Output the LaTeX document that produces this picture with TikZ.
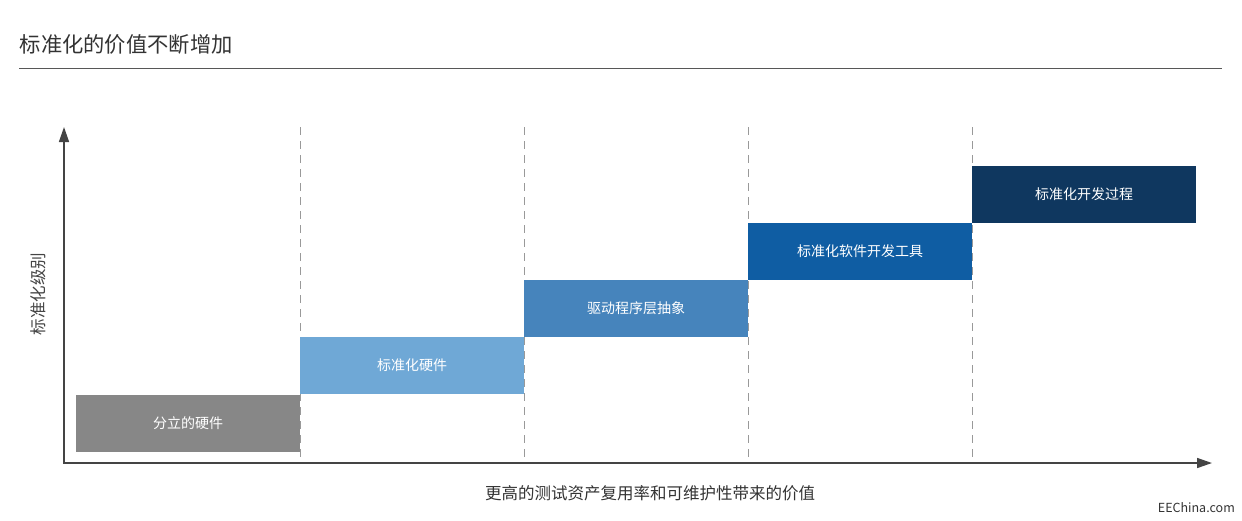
\documentclass[tikz,border=0pt]{standalone}
\usepackage{fontspec}
\setmainfont{Noto Sans CJK SC}
\usetikzlibrary{arrows.meta}
\definecolor{axisgray}{HTML}{444444}
\definecolor{dashgray}{HTML}{999999}
\definecolor{cA}{HTML}{878787}
\definecolor{cB}{HTML}{6FA8D6}
\definecolor{cC}{HTML}{4684BC}
\definecolor{cD}{HTML}{0F5DA3}
\definecolor{cE}{HTML}{0F375F}
\definecolor{txtgray}{HTML}{333333}
\tikzset{
  stepbox/.style={draw=none, minimum width=224pt, minimum height=57pt, inner sep=0pt,
    text=white, font=\fontsize{14pt}{16pt}\selectfont},
  axisline/.style={draw=axisgray, line width=1.5pt, -{Triangle[length=15pt,width=10pt]}},
  gridline/.style={draw=dashgray, line width=0.9pt, dash pattern=on 8pt off 6pt},
}
\begin{document}
\begin{tikzpicture}[x=1pt,y=-1pt]
\useasboundingbox (0,0) rectangle (1242,520);
% title
\node[anchor=west, inner sep=0pt, text=txtgray, font=\fontsize{21.3pt}{24pt}\selectfont] (title) at (19.5,44.5) {标准化的价值不断增加};
\coordinate (r1) at (19,68);
\coordinate (r2) at (1222,68);
\draw[draw=axisgray!90, line width=1pt] (r1) -- (r2);
% dashed grid
\foreach \x [count=\i] in {300,524,748,972} {
  \coordinate (gt\i) at (\x,127);
  \coordinate (gb\i) at (\x,463);
  \draw[gridline] (gt\i) -- (gb\i);
}
% boxes
\node[stepbox, fill=cA] (b1) at (188,423) {分立的硬件};
\node[stepbox, fill=cB] (b2) at (412,365.5) {标准化硬件};
\node[stepbox, fill=cC] (b3) at (636,308.5) {驱动程序层抽象};
\node[stepbox, fill=cD] (b4) at (860,251.5) {标准化软件开发工具};
\node[stepbox, fill=cE] (b5) at (1084,194.5) {标准化开发过程};
% axes
\coordinate (o) at (64,463);
\coordinate (ox) at (63.25,463);
\coordinate (ytop) at (64,127);
\coordinate (xend) at (1212,463);
\draw[axisline] (o) -- (ytop);
\draw[axisline] (ox) -- (xend);
% labels
\node[rotate=90, inner sep=0pt, text=axisgray, font=\fontsize{16.5pt}{18pt}\selectfont] (ylab) at (38,294) {标准化级别};
\node[inner sep=0pt, text=txtgray, font=\fontsize{16.5pt}{18pt}\selectfont] (xlab) at (650,493) {更高的测试资产复用率和可维护性带来的价值};
\node[anchor=east, inner sep=0pt, text=txtgray, font=\fontsize{12.5pt}{14pt}\selectfont] (wm) at (1235,508) {EEChina.com};
\end{tikzpicture}
\end{document}
